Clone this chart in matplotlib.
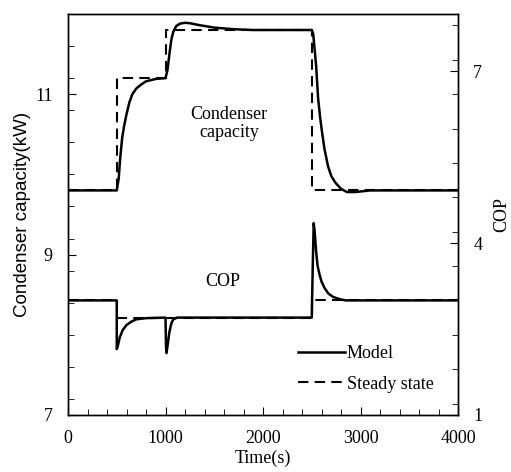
import matplotlib
matplotlib.use("Agg")
import matplotlib.pyplot as plt
from matplotlib.ticker import MultipleLocator
from matplotlib.lines import Line2D

plt.rcParams['font.family'] = ['Liberation Serif', 'DejaVu Serif']

# condenser capacity (kW), model response
cap_t = [0, 500, 520, 535, 555, 575, 600, 630, 660, 700, 750, 800, 900, 1000,
         1020, 1040, 1060, 1080, 1110, 1150, 1200, 1250, 1350, 1500, 1700, 1900, 2500,
         2515, 2530, 2545, 2565, 2585, 2605, 2630, 2667, 2700, 2740, 2800, 2860, 2950, 3100, 4000]
cap_model = [9.8, 9.8, 9.95, 10.2, 10.45, 10.6, 10.75, 10.9, 11.0, 11.07, 11.12, 11.16, 11.19, 11.2,
             11.3, 11.5, 11.68, 11.78, 11.85, 11.88, 11.89, 11.885, 11.86, 11.83, 11.81, 11.8, 11.8,
             11.75, 11.55, 11.35, 10.95, 10.72, 10.53, 10.32, 10.1, 9.98, 9.9, 9.82, 9.78, 9.78, 9.8, 9.8]
# steady state capacity
cap_ss_t = [0, 500, 500, 1000, 1000, 2500, 2500, 4000]
cap_ss = [9.8, 9.8, 11.2, 11.2, 11.8, 11.8, 9.8, 9.8]

# COP, model response
cop_t = [0, 500, 500, 510, 530, 560, 600, 650, 700, 800, 1000,
         1005, 1010, 1020, 1040, 1060, 1080, 1120, 2500,
         2500, 2510, 2520, 2530, 2545, 2560, 2580, 2600, 2630, 2670, 2720, 2790, 2850, 4000]
cop_model = [3.0, 3.0, 2.15, 2.2, 2.35, 2.48, 2.57, 2.63, 2.67, 2.69, 2.7,
             2.2, 2.08, 2.2, 2.45, 2.6, 2.67, 2.7, 2.7,
             2.7, 3.6, 4.35, 4.2, 3.85, 3.6, 3.45, 3.33, 3.22, 3.12, 3.06, 3.02, 3.0, 3.0]
cop_ss_t = [0, 500, 500, 2500, 2500, 4000]
cop_ss = [3.0, 3.0, 2.7, 2.7, 3.0, 3.0]

cap_ticks = [7, 9, 11]
cop_ticks = [1, 4, 7]

fig = plt.figure(figsize=(5.11, 4.72), dpi=100)
ax = fig.add_axes([0.1331, 0.1208, 0.7632, 0.8496])
ax2 = ax.twinx()

dash = (0, (5, 3))
ax.plot(cap_ss_t, cap_ss, color='black', lw=1.5, linestyle=dash)
ax.plot(cap_t, cap_model, color='black', lw=1.8)
ax2.plot(cop_ss_t, cop_ss, color='black', lw=1.5, linestyle=dash)
ax2.plot(cop_t, cop_model, color='black', lw=1.8)

ax.set_xlim(0, 4000)
ax.set_ylim(7, 12)
ax2.set_ylim(1, 8)

ax.xaxis.set_major_locator(MultipleLocator(1000))
ax.xaxis.set_minor_locator(MultipleLocator(200))
ax.set_yticks(cap_ticks)
ax.yaxis.set_minor_locator(MultipleLocator(0.4))
ax2.set_yticks(cop_ticks)
ax2.yaxis.set_minor_locator(MultipleLocator(0.6))

for a in (ax, ax2):
    a.tick_params(which='both', direction='in', labelsize=13, pad=11)
    a.tick_params(which='major', length=6)
    a.tick_params(which='minor', length=4)
    for s in a.spines.values():
        s.set_linewidth(1.0)
ax.tick_params(axis='y', which='both', right=False)

ax.set_xlabel('Time(s)', fontsize=13, labelpad=2)
ax.set_ylabel('Condenser capacity(kW)', fontsize=13.5,
              family=['Liberation Sans', 'DejaVu Sans'], labelpad=3)
ax2.set_ylabel('COP', fontsize=13, labelpad=8)

ax.text(1650, 10.63, 'Condenser\ncapacity', ha='center', va='center', fontsize=13, linespacing=1.1)
ax.text(1590, 8.66, 'COP', ha='center', va='center', fontsize=13)

handles = [Line2D([], [], color='black', lw=1.8),
           Line2D([], [], color='black', lw=1.5, linestyle=dash)]
ax.legend(handles, ['Model', 'Steady state'], loc='center left', bbox_to_anchor=(0.59, 0.115),
          frameon=False, fontsize=13, handlelength=2.6, handletextpad=0.1, labelspacing=0.77,
          borderpad=0, borderaxespad=0)

fig.savefig('out.png', dpi=100, facecolor='white')
